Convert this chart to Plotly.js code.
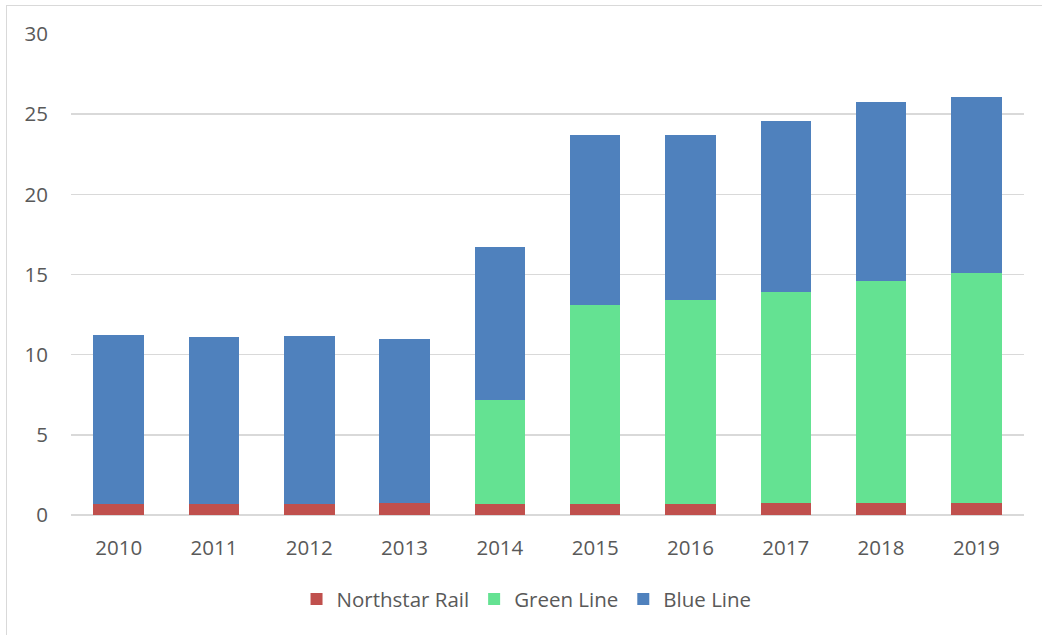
<!DOCTYPE html>
<html>
<head>
<meta charset="utf-8">
<script src="https://cdn.plot.ly/plotly-3.0.1.min.js"></script>
<style>
html,body{margin:0;padding:0;background:#fff;}
#wrap{position:relative;width:1042px;height:635px;}
#frame{position:absolute;left:6px;top:5px;right:0;bottom:0;border-left:1.5px solid #d9d9d9;border-top:1.5px solid #d9d9d9;pointer-events:none;z-index:5;}
#chart{width:1042px;height:635px;}
</style>
</head>
<body>
<div id="wrap"><div id="chart"></div><div id="frame"></div></div>
<script>
const years = ['2010','2011','2012','2013','2014','2015','2016','2017','2018','2019'];
const northstarRail = [0.70,0.70,0.70,0.76,0.70,0.70,0.67,0.76,0.76,0.74];
const greenLine     = [0,0,0,0,6.50,12.42,12.74,13.12,13.83,14.33];
const blueLine      = [10.50,10.38,10.48,10.22,9.51,10.59,10.30,10.70,11.17,10.99];
const yTicks = [0,5,10,15,20,25,30];

const font = {family:'"Open Sans", sans-serif', size:20.5, color:'#595959'};

const traces = [
  {name:'Northstar Rail', x:years, y:northstarRail, type:'bar', marker:{color:'#C0504D', line:{width:0}}},
  {name:'Green Line', x:years, y:greenLine, type:'bar', marker:{color:'#64E292', line:{width:0}}},
  {name:'Blue Line', x:years, y:blueLine, type:'bar', marker:{color:'#4F81BD', line:{width:0}}}
];

const layout = {
  width:1042, height:635,
  margin:{l:71, r:18, t:34, b:119.5},
  barmode:'stack',
  bargap:0.47,
  paper_bgcolor:'#fff', plot_bgcolor:'#fff',
  font:font,
  showlegend:true,
  legend:{orientation:'h', x:0.478, xanchor:'center', y:-0.175, yanchor:'middle', font:font, traceorder:'normal', itemclick:false, itemwidth:30},
  xaxis:{type:'category', showgrid:false, showline:false, zeroline:false, ticks:'', tickfont:font, ticklabelstandoff:18},
  yaxis:{range:[0,30], tickvals:yTicks, ticktext:yTicks.map(String), showgrid:true, gridcolor:'#d9d9d9', gridwidth:1.6, zeroline:true, zerolinecolor:'#d9d9d9', zerolinewidth:1.6, showline:false, ticks:'', tickfont:font, ticklabelstandoff:22}
};

Plotly.newPlot('chart', traces, layout, {displayModeBar:false, staticPlot:true});
</script>
</body>
</html>
